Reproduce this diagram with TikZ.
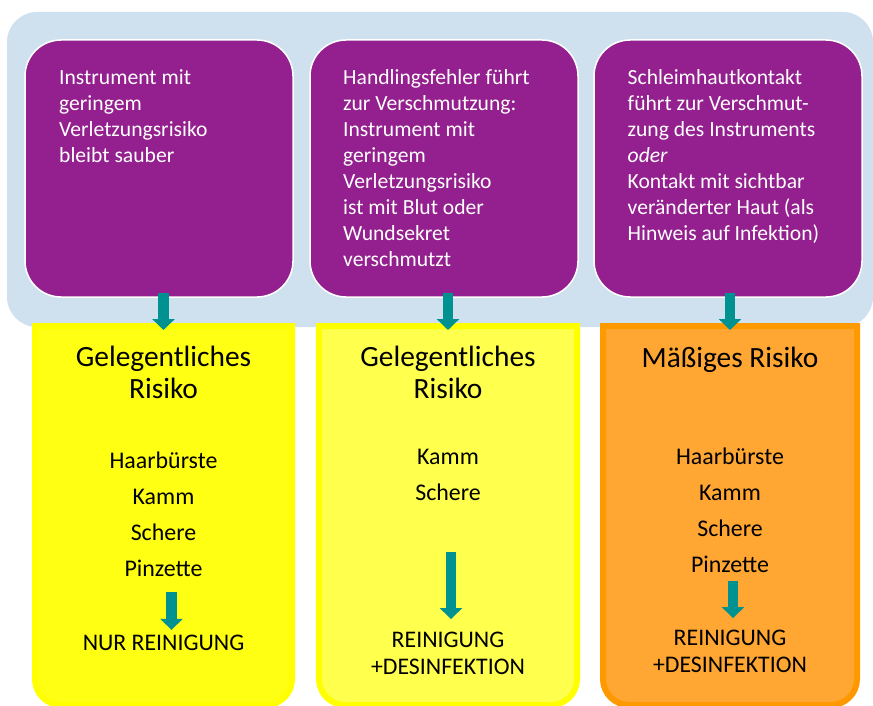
\documentclass[tikz,border=0pt]{standalone}
\usepackage{fontspec}
\setmainfont{Carlito}
\usetikzlibrary{arrows.meta, positioning, calc}

\definecolor{panelblue}{HTML}{CFE1EF}
\definecolor{casepurple}{HTML}{93208E}
\definecolor{flowteal}{HTML}{009191}
\definecolor{lowyellow}{HTML}{FFFF14}
\definecolor{lowyellowB}{HTML}{FFFF4D}
\definecolor{edgeyellow}{HTML}{FFFF00}
\definecolor{midorange}{HTML}{FFA633}
\definecolor{edgeorange}{HTML}{FF9900}

\begin{document}
\begin{tikzpicture}[
    x=1pt, y=1pt,
    panel/.style={rectangle, fill=panelblue, rounded corners=30pt, minimum width=866pt, minimum height=315pt, inner sep=0pt},
    casebox/.style={rectangle, draw=white, line width=1.5pt, fill=casepurple, rounded corners=36pt, minimum width=268pt, minimum height=257pt, outer sep=0pt},
    casetext/.style={anchor=base west, align=left, inner sep=0pt, text=white, font=\fontsize{21.6}{26.1}\selectfont},
    riskbox/.style={rectangle, minimum height=379pt, inner sep=0pt, outer sep=0pt},
    lowA/.style={draw=edgeyellow, fill=lowyellow, line width=6pt},
    lowB/.style={draw=edgeyellow, fill=lowyellowB, line width=6pt},
    midC/.style={draw=edgeorange, fill=midorange, line width=6pt},
    headtext/.style={anchor=base, align=center, inner sep=0pt, font=\fontsize{29.4}{32}\selectfont},
    itemtext/.style={anchor=base, align=center, inner sep=0pt, font=\fontsize{23.9}{36}\selectfont},
    acttext/.style={anchor=base, align=center, inner sep=0pt, font=\fontsize{23.8}{26.3}\selectfont},
    flow/.style={draw=flowteal, line width=10.5pt, -{Triangle[width=22pt,length=11pt]}}
]
    \useasboundingbox (0,0) rectangle (873,-706);
    \clip (0,0) rectangle (873,-706);

    % blue band behind the three cases
    \node[panel] (panel) at (440,-169.5) {};

    % the three cases
    \node[casebox] (p1) at (159,-168.5) {};
    \node[casebox, right=17pt of p1] (p2) {};
    \node[casebox, right=16pt of p2] (p3) {};

    % (base anchor sits on the last line)
    \node[casetext] (c1) at ($(p1.north west)+(34,-122.3)$) {Instrument mit\\geringem\\Verletzungsrisiko\\bleibt sauber};
    \node[casetext] (c2) at ($(p2.north west)+(33,-226.7)$) {Handlingsfehler führt\\zur Verschmutzung:\\Instrument mit\\geringem\\Verletzungsrisiko\\ist mit Blut oder\\Wundsekret\\verschmutzt};
    \node[casetext] (c3) at ($(p3.north west)+(33.5,-200.6)$) {Schleimhautkontakt\\führt zur Verschmut-\\zung des Instruments\\\textit{oder}\\Kontakt mit sichtbar\\veränderter Haut (als\\Hinweis auf Infektion)};

    % risk classes below (square top, round bottom)
    \node[riskbox, minimum width=257pt] (r1) at (163.5,-515.5) {};
    \node[riskbox, minimum width=258pt, right=27pt of r1] (r2) {};
    \node[riskbox, minimum width=254pt, right=26pt of r2] (r3) {};

    \foreach \n/\s in {r1/lowA, r2/lowB, r3/midC}
        \draw[\s] (\n.north west) -- (\n.north east) -- ([yshift=26pt]\n.south east)
            arc[start angle=0, end angle=-90, radius=26pt] -- ([xshift=26pt]\n.south west)
            arc[start angle=270, end angle=180, radius=26pt] -- cycle;

    % case -> risk class
    \foreach \p/\r in {p1/r1, p2/r2, p3/r3}
        \draw[flow] ($(\r.north |- \p.south)+(0,4)$) -- ($(\r.north)+(0,-4)$);

    % contents of the risk classes
    \node[headtext] (h1) at ($(r1.north)+(0,-72)$) {Gelegentliches\\Risiko};
    \node[itemtext] (l1) at ($(r1.north)+(0,-250)$) {Haarbürste\\Kamm\\Schere\\Pinzette};
    \node[acttext] (a1) at ($(r1.north)+(0,-324.5)$) {NUR REINIGUNG};

    \node[headtext] (h2) at ($(r2.north)+(0,-72)$) {Gelegentliches\\Risiko};
    \node[itemtext] (l2) at ($(r2.north)+(0,-174.5)$) {Kamm\\Schere};
    \node[acttext] (a2) at ($(r2.north)+(0,-348)$) {REINIGUNG\\+DESINFEKTION};

    \node[headtext] (h3) at ($(r3.north)+(0,-41)$) {Mäßiges Risiko};
    \node[itemtext] (l3) at ($(r3.north)+(0,-246)$) {Haarbürste\\Kamm\\Schere\\Pinzette};
    \node[acttext] (a3) at ($(r3.north)+(0,-346)$) {REINIGUNG\\+DESINFEKTION};

    \draw[flow, shorten <=16pt, shorten >=5pt] ([xshift=8pt]l1.south) -- ([xshift=8pt]a1.north);
    \draw[flow, shorten <=51pt, shorten >=13pt] ([xshift=3pt]l2.south) -- ([xshift=3pt]a2.north);
    \draw[flow, shorten <=9pt, shorten >=12pt] ([xshift=3pt]l3.south) -- ([xshift=3pt]a3.north);
\end{tikzpicture}
\end{document}
